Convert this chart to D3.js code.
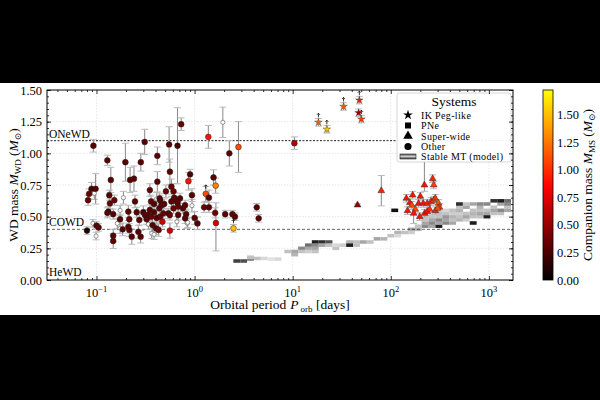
<!DOCTYPE html>
<html>
<head>
<meta charset="utf-8">
<script src="https://cdn.jsdelivr.net/npm/d3@7"></script>
<style>
body { margin: 0; background: #000; }
text { font-family: "Liberation Serif", "DejaVu Serif", serif; }
</style>
</head>
<body>
<div id="chart"></div>
<script>
'use strict'

// ---------- data ----------
// [period (days), WD mass, companion mass, err low, err high, limit arrow]
const otherSystems = [
    [0.093, 1.06, 0.3, 0.05, 0.05], [0.129, 0.945, 0.3, 0.04, 0.04], [0.140, 0.79, 0.3, 0.1, 0.1],
    [0.31, 1.09, 0.3, 0.1, 0.1], [0.73, 1.23, 0.35, 0.05, 0.05], [0.55, 1.07, 0.3, 0.14, 0.14],
    [0.67, 1.06, 0.25, 0.3, 0.3], [0.417, 0.98, 0.3, 0.07, 0.07], [0.197, 0.93, 0.3, 0.15, 0.15],
    [0.283, 0.93, 0.3, 0.07, 0.07], [0.22, 0.79, 0.3, 0.1, 0.1], [0.241, 0.80, 0.3, 0.1, 0.1],
    [0.098, 0.72, 0.3, 0.12, 0.12], [0.089, 0.72, 0.25, 0.05, 0.05], [0.135, 0.67, 0.3, 0.04, 0.04],
    [0.084, 0.68, 0.35, 0.04, 0.04], [0.082, 0.63, 0.35, 0.04, 0.04], [0.35, 0.71, 0.35, 0.05, 0.05],
    [0.417, 0.776, 0.3, 0.08, 0.08], [0.56, 0.855, 0.3, 0.1, 0.1], [0.58, 0.737, 0.35, 0.06, 0.06],
    [0.61, 0.70, 0.35, 0.06, 0.06], [0.90, 0.834, 0.25, 0.04, 0.04], [0.94, 0.67, 0.3, 0.05, 0.05],
    [0.865, 0.78, 0.9, 0.07, 0.07], [1.38, 1.13, 0.9, 0.09, 0.09], [2.26, 1.00, 0.3, 0.1, 0.1],
    [2.8, 1.05, 1.1, 0.2, 0.2], [10.4, 1.08, 0.6, 0.05, 0.05], [1.56, 0.81, 0.3, 0.06, 0.06],
    [1.64, 0.745, 1.3, 0.06, 0.06], [1.3, 0.68, 1.1, 0.06, 0.06, 1], [1.4, 0.65, 0.3, 0.06, 0.06],
    [1.25, 0.574, 0.35, 0.04, 0.04], [1.4, 0.574, 0.3, 0.04, 0.04], [1.62, 0.53, 0.35, 0.04, 0.04],
    [1.65, 0.45, 0.7, 0.22, 0.16], [2.05, 0.52, 0.3, 0.03, 0.03], [2.43, 0.52, 0.35, 0.03, 0.03],
    [2.58, 0.50, 0.3, 0.03, 0.03], [2.49, 0.408, 1.5, 0.03, 0.03, 1], [4.3, 0.574, 0.3, 0.03, 0.03],
    [4.5, 0.487, 0.3, 0.03, 0.03], [1.0, 0.49, 0.3, 0.05, 0.05], [1.07, 0.447, 0.3, 0.05, 0.05],
    [0.36, 0.62, 0.35, 0.05, 0.05], [0.386, 0.60, 0.3, 0.04, 0.04], [0.46, 0.59, 0.3, 0.04, 0.04],
    [0.247, 0.62, 0.3, 0.05, 0.05], [0.132, 0.54, 0.2, 0.04, 0.04], [0.148, 0.52, 0.3, 0.04, 0.04],
    [0.211, 0.54, 0.3, 0.05, 0.05], [0.216, 0.48, 0.35, 0.05, 0.05], [0.257, 0.535, 0.3, 0.04, 0.04],
    [0.30, 0.535, 0.25, 0.05, 0.05], [0.273, 0.474, 0.3, 0.04, 0.04], [0.312, 0.513, 0.3, 0.04, 0.04],
    [0.338, 0.513, 0.3, 0.04, 0.04], [0.36, 0.50, 0.35, 0.04, 0.04], [0.386, 0.535, 0.3, 0.04, 0.04],
    [0.41, 0.49, 0.3, 0.05, 0.05], [0.444, 0.50, 0.35, 0.04, 0.04], [0.48, 0.526, 0.35, 0.04, 0.04],
    [0.373, 0.434, 0.3, 0.05, 0.05], [0.405, 0.408, 0.3, 0.05, 0.05], [0.43, 0.395, 0.35, 0.05, 0.05],
    [0.211, 0.42, 0.3, 0.05, 0.05], [0.216, 0.395, 0.3, 0.05, 0.05], [0.229, 0.342, 0.3, 0.06, 0.06],
    [0.267, 0.38, 0.3, 0.05, 0.05], [0.282, 0.342, 0.3, 0.05, 0.05], [0.148, 0.35, 0.3, 0.05, 0.05],
    [0.148, 0.308, 0.3, 0.06, 0.06], [0.08, 0.39, 0.1, 0.03, 0.03], [0.1, 0.43, 0.3, 0.03, 0.03],
    [0.105, 0.415, 0.3, 0.03, 0.03], [0.137, 0.605, 0.35, 0.04, 0.04], [0.152, 0.63, 0.35, 0.04, 0.04],
    [0.129, 0.53, 0.3, 0.04, 0.04], [0.174, 0.48, 0.3, 0.04, 0.04], [0.185, 0.40, 0.3, 0.05, 0.05],
    [0.325, 0.48, 0.3, 0.04, 0.04], [0.35, 0.553, 0.3, 0.04, 0.04], [0.437, 0.566, 0.3, 0.04, 0.04],
    [0.51, 0.70, 0.35, 0.05, 0.05], [0.54, 0.526, 0.3, 0.04, 0.04], [0.58, 0.62, 0.3, 0.04, 0.04],
    [0.61, 0.566, 0.35, 0.04, 0.04], [0.66, 0.62, 0.3, 0.04, 0.04], [0.68, 0.58, 0.35, 0.04, 0.04],
    [0.71, 0.645, 0.3, 0.04, 0.04], [0.76, 0.566, 0.3, 0.04, 0.04], [0.80, 0.59, 0.3, 0.04, 0.04],
    [0.56, 0.39, 0.7, 0.06, 0.06], [0.47, 0.46, 0.7, 0.04, 0.04], [0.80, 0.487, 0.3, 0.04, 0.04],
    [0.62, 0.65, 0.3, 0.04, 0.04], [0.49, 0.60, 0.3, 0.04, 0.04], [0.67, 0.61, 0.3, 0.04, 0.04],
    [0.82, 0.52, 0.3, 0.04, 0.04], [0.68, 0.513, 0.3, 0.04, 0.04], [0.56, 0.513, 0.35, 0.04, 0.04],
    [0.445, 0.63, 0.3, 0.04, 0.04], [0.44, 0.645, 0.3, 0.04, 0.04]
]

// systems without a companion mass (open circles): [period, WD mass, err]
const openSystems = [
    [0.095, 0.685, 0.05], [0.188, 0.65, 0.05], [0.41, 0.64, 0.05], [1.94, 1.245, 0.12],
    [0.94, 0.587, 0.05], [0.174, 0.55, 0.04], [0.338, 0.44, 0.04], [0.366, 0.368, 0.04],
    [0.386, 0.36, 0.04], [0.174, 0.408, 0.04], [0.092, 0.447, 0.03], [0.099, 0.347, 0.03],
    [0.163, 0.447, 0.04], [0.66, 0.46, 0.04], [0.84, 0.447, 0.04], [0.85, 0.455, 0.04]
]

// IK Peg-like: [period, WD mass, companion mass]
const ikPegSystems = [
    [18.3, 1.245, 1.2], [22.3, 1.19, 1.5], [33, 1.37, 1.15],
    [47.8, 1.42, 0.95], [47, 1.32, 0.5], [50.1, 1.27, 1.05]
]

// Super-wide: [period, WD mass, companion mass, err low, err high]
const superWideSystems = [
    [80, 0.705, 0.95, 0.12, 0.12], [45.8, 0.592, 0.5, 0.01, 0.01],
    [220, 0.75, 0.9, 0.05, 0.6], [267, 0.80, 0.95, 0.03, 0.03], [274, 0.75, 1.05, 0.03, 0.03],
    [144, 0.645, 0.9, 0.03, 0.03], [167, 0.67, 0.9, 0.03, 0.03], [200, 0.66, 0.9, 0.03, 0.03],
    [156, 0.61, 0.9, 0.03, 0.03], [164, 0.59, 1.1, 0.03, 0.03], [192, 0.605, 0.9, 0.03, 0.03],
    [214, 0.605, 0.9, 0.03, 0.03], [235, 0.605, 0.95, 0.03, 0.03], [257, 0.62, 0.95, 0.03, 0.03],
    [274, 0.63, 1.1, 0.03, 0.03], [284, 0.645, 1.0, 0.03, 0.03], [307, 0.605, 1.1, 0.03, 0.03],
    [313, 0.574, 1.0, 0.03, 0.03], [148, 0.547, 0.9, 0.03, 0.03], [178, 0.558, 1.1, 0.03, 0.03],
    [171, 0.526, 0.9, 0.08, 0.03], [197, 0.50, 0.9, 0.03, 0.03], [221, 0.526, 0.9, 0.03, 0.03],
    [235, 0.54, 0.9, 0.03, 0.03], [249, 0.558, 1.0, 0.03, 0.03], [284, 0.547, 0.95, 0.03, 0.03],
    [301, 0.566, 1.1, 0.03, 0.03]
]

// Stable MT model grid: [log10 period, WD mass, density 0-1]
const modelCells = [
    [0.43, 0.15, 0.8], [0.50, 0.15, 0.75], [0.57, 0.165, 0.55], [0.57, 0.18, 0.35], [0.64, 0.17, 0.35],
    [0.71, 0.17, 0.25], [0.78, 0.165, 0.2], [0.85, 0.165, 0.25],
    [0.95, 0.225, 0.35], [1.02, 0.225, 0.45], [1.02, 0.2, 0.4], [1.09, 0.25, 0.55], [1.09, 0.225, 0.35],
    [1.16, 0.275, 0.65], [1.16, 0.25, 0.45], [1.16, 0.225, 0.3], [1.23, 0.3, 0.9], [1.23, 0.275, 0.55],
    [1.23, 0.25, 0.45], [1.23, 0.225, 0.35], [1.30, 0.3, 0.85], [1.30, 0.275, 0.45], [1.37, 0.3, 0.75],
    [1.37, 0.275, 0.35], [1.44, 0.25, 0.35], [1.44, 0.275, 0.25], [1.51, 0.275, 0.3], [1.58, 0.3, 0.4],
    [1.58, 0.275, 0.9], [1.65, 0.275, 0.35], [1.65, 0.3, 0.35], [1.72, 0.3, 0.45], [1.79, 0.3, 0.35],
    [1.86, 0.325, 0.45], [1.93, 0.325, 0.4], [2.0, 0.35, 0.35], [2.04, 0.55, 0.95],
    [2.07, 0.375, 0.4], [2.07, 0.35, 0.25], [2.14, 0.375, 0.35], [2.21, 0.4, 0.45], [2.21, 0.375, 0.3],
    [2.28, 0.4, 0.4], [2.28, 0.425, 0.35], [2.35, 0.425, 0.55], [2.35, 0.45, 0.45], [2.35, 0.475, 0.35],
    [2.35, 0.5, 0.35], [2.42, 0.425, 0.45], [2.42, 0.45, 0.55], [2.42, 0.475, 0.45], [2.42, 0.5, 0.35],
    [2.42, 0.525, 0.25], [2.49, 0.425, 0.9], [2.49, 0.45, 0.45], [2.49, 0.475, 0.55], [2.49, 0.5, 0.35],
    [2.49, 0.525, 0.35], [2.56, 0.45, 0.55], [2.56, 0.475, 0.45], [2.56, 0.5, 0.5], [2.56, 0.525, 0.35],
    [2.56, 0.55, 0.25], [2.63, 0.45, 0.45], [2.63, 0.475, 0.35], [2.63, 0.5, 0.4], [2.63, 0.525, 0.3],
    [2.63, 0.55, 0.35], [2.70, 0.475, 0.4], [2.70, 0.5, 0.35], [2.70, 0.525, 0.3], [2.70, 0.55, 0.4],
    [2.70, 0.575, 0.35], [2.70, 0.6, 0.85], [2.77, 0.475, 0.3], [2.77, 0.5, 0.45], [2.77, 0.525, 0.35],
    [2.77, 0.575, 0.45], [2.77, 0.6, 0.35], [2.84, 0.45, 0.9], [2.84, 0.5, 0.35], [2.84, 0.525, 0.4],
    [2.84, 0.55, 0.35], [2.84, 0.6, 0.45], [2.91, 0.5, 0.35], [2.91, 0.525, 0.45], [2.91, 0.55, 0.35],
    [2.91, 0.575, 0.4], [2.91, 0.6, 0.55], [2.98, 0.5, 0.9], [2.98, 0.525, 0.45], [2.98, 0.55, 0.35],
    [2.98, 0.6, 0.55], [3.05, 0.525, 0.35], [3.05, 0.55, 0.45], [3.05, 0.575, 0.35], [3.05, 0.625, 0.85],
    [3.12, 0.525, 0.35], [3.12, 0.55, 0.55], [3.12, 0.6, 0.45], [3.12, 0.625, 0.9], [3.19, 0.55, 0.45],
    [3.19, 0.575, 0.35], [3.19, 0.6, 0.55], [3.19, 0.625, 0.65]
]

const yTicks = [0, 0.25, 0.5, 0.75, 1.0, 1.25, 1.5]
const colorTicks = [0, 0.25, 0.5, 0.75, 1.0, 1.25, 1.5]
const xTickLabels = [[0.1, "\u22121"], [1, "0"], [10, "1"], [100, "2"], [1000, "3"]]
const classLines = [["ONeWD", 1.1], ["COWD", 0.4], ["HeWD", 0]]

////////////////////////////////////
//////////// svg setup /////////////
////////////////////////////////////
const W = 600, H = 400
const plot = { left: 47, right: 513, top: 90, bottom: 280 }
const cbar = { left: 543, right: 553 }

const svg = d3.select('#chart').append('svg')
    .attr('width', W).attr('height', H)

svg.append('rect').attr('width', W).attr('height', H).attr('fill', '#000')
svg.append('rect').attr('x', 0).attr('y', 83).attr('width', W).attr('height', 232).attr('fill', '#fff')

const x = d3.scaleLog().domain([0.0313, 1760]).range([plot.left, plot.right])
const y = d3.scaleLinear().domain([0, 1.5]).range([plot.bottom, plot.top])
const cMax = 1.727
const yc = d3.scaleLinear().domain([0, cMax]).range([plot.bottom, plot.top])

// matplotlib "hot", truncated so the top is yellow
function hot(m) {
    const t = Math.max(0, Math.min(1, m / cMax)) * 0.746
    const cl = v => Math.max(0, Math.min(1, v))
    const r = cl(t / 0.365), g = cl((t - 0.365) / 0.381), b = cl((t - 0.746) / 0.254)
    return d3.rgb(r * 255, g * 255, b * 255).toString()
}

svg.append('clipPath').attr('id', 'clip').append('rect')
    .attr('x', plot.left).attr('y', plot.top)
    .attr('width', plot.right - plot.left).attr('height', plot.bottom - plot.top)

const body = svg.append('g').attr('clip-path', 'url(#clip)')

// grid
body.append('g').selectAll('line').data([0.1, 1, 10, 100, 1000]).join('line')
    .attr('x1', d => x(d)).attr('x2', d => x(d))
    .attr('y1', plot.top).attr('y2', plot.bottom)
    .attr('stroke', '#ddd').attr('stroke-width', 0.7).attr('stroke-dasharray', '1.5,1.5')
body.append('g').selectAll('line').data(yTicks).join('line')
    .attr('x1', plot.left).attr('x2', plot.right)
    .attr('y1', d => y(d)).attr('y2', d => y(d))
    .attr('stroke', '#ddd').attr('stroke-width', 0.7).attr('stroke-dasharray', '1.5,1.5')

// model cells
const dLog = 0.07, dM = 0.028
body.append('g').selectAll('rect').data(modelCells).join('rect')
    .attr('x', d => x(Math.pow(10, d[0] - dLog / 2)))
    .attr('width', d => x(Math.pow(10, d[0] + dLog / 2)) - x(Math.pow(10, d[0] - dLog / 2)))
    .attr('y', d => y(d[1] + dM / 2))
    .attr('height', d => y(d[1] - dM / 2) - y(d[1] + dM / 2))
    .attr('fill', d => d3.interpolateGreys(d[2]))

// class lines
body.append('g').selectAll('line').data(classLines.filter(d => d[1] > 0)).join('line')
    .attr('x1', plot.left).attr('x2', plot.right)
    .attr('y1', d => y(d[1])).attr('y2', d => y(d[1]))
    .attr('stroke', '#222').attr('stroke-width', d => d[1] > 1 ? 1 : 0.7)
    .attr('stroke-dasharray', d => d[1] > 1 ? '2,1.5' : '3,2')

svg.append('g').selectAll('text').data(classLines).join('text')
    .attr('x', plot.left + 2)
    .attr('y', d => d[1] > 0 ? y(d[1]) - 3 : y(d[1]) - 4)
    .attr('font-size', 11.5)
    .text(d => d[0])

// error bars
function errorBars(g, data, px, py, lo, hi) {
    const eg = g.append('g')
    eg.selectAll('line.bar').data(data).join('line').attr('class', 'bar')
        .attr('x1', px).attr('x2', px)
        .attr('y1', d => y(py(d) - lo(d))).attr('y2', d => y(py(d) + hi(d)))
        .attr('stroke', '#888').attr('stroke-width', 1)
    ;[d => py(d) - lo(d), d => py(d) + hi(d)].forEach(f => {
        eg.selectAll(null).data(data).join('line')
            .attr('x1', d => px(d) - 3.5).attr('x2', d => px(d) + 3.5)
            .attr('y1', d => y(f(d))).attr('y2', d => y(f(d)))
            .attr('stroke', '#bbb').attr('stroke-width', 1)
    })
}

errorBars(body, openSystems, d => x(d[0]), d => d[1], d => d[2], d => d[2])
errorBars(body, otherSystems, d => x(d[0]), d => d[1], d => d[3], d => d[4])
errorBars(body, ikPegSystems, d => x(d[0]), d => d[1], () => 0.03, () => 0.03)
errorBars(body, superWideSystems, d => x(d[0]), d => d[1], d => d[3], d => d[4])

// limit arrows
const limited = otherSystems.filter(d => d[5]).concat(ikPegSystems.filter(d => d[2] !== 0.5))
body.append('g').selectAll('path').data(limited).join('path')
    .attr('d', d => {
        const px = x(d[0]), py = y(d[1]) - 5
        return `M${px},${py}V${py - 4}M${px - 1.5},${py - 2.5}L${px},${py - 4}L${px + 1.5},${py - 2.5}`
    })
    .attr('stroke', '#000').attr('stroke-width', 0.8).attr('fill', 'none')

// markers
body.append('g').selectAll('circle').data(openSystems).join('circle')
    .attr('cx', d => x(d[0])).attr('cy', d => y(d[1])).attr('r', 2.1)
    .attr('fill', '#fff').attr('stroke', '#777').attr('stroke-width', 0.8)

body.append('g').selectAll('circle').data(otherSystems).join('circle')
    .attr('cx', d => x(d[0])).attr('cy', d => y(d[1])).attr('r', 2.9)
    .attr('fill', d => hot(d[2])).attr('stroke', '#222').attr('stroke-width', 0.5)

body.append('g').selectAll('path').data(superWideSystems).join('path')
    .attr('transform', d => `translate(${x(d[0])},${y(d[1])})`)
    .attr('d', d3.symbol(d3.symbolTriangle, 20))
    .attr('fill', d => hot(d[2])).attr('stroke', '#333').attr('stroke-width', 0.5)

body.append('g').selectAll('path').data(ikPegSystems).join('path')
    .attr('transform', d => `translate(${x(d[0])},${y(d[1])})`)
    .attr('d', d3.symbol(d3.symbolStar, 18))
    .attr('fill', d => hot(d[2])).attr('stroke', '#333').attr('stroke-width', 0.4)

////////////////////////////////////
//////////// Legend ////////////////
////////////////////////////////////
const lg = svg.append('g')
lg.append('rect').attr('x', 397).attr('y', 93).attr('width', 114).attr('height', 69)
    .attr('rx', 2.5).attr('fill', '#fff').attr('fill-opacity', 0.92)
    .attr('stroke', '#ccc').attr('stroke-width', 0.8)
lg.append('text').attr('x', 454).attr('y', 106).attr('text-anchor', 'middle')
    .attr('font-size', 13.5).text('Systems')

const legendItems = [
    ['IK Peg-like', d3.symbolStar, 30],
    ['PNe', d3.symbolSquare, 36],
    ['Super-wide', d3.symbolTriangle, 40],
    ['Other', d3.symbolCircle, 40]
]
legendItems.forEach((it, i) => {
    const ly = 115 + i * 10.5
    lg.append('path').attr('transform', `translate(408,${ly})`)
        .attr('d', d3.symbol(it[1], it[2])).attr('fill', '#000')
    lg.append('text').attr('x', 421).attr('y', ly + 3.5).attr('font-size', 10)
        .attr('letter-spacing', 0.35).text(it[0])
})
const grad = svg.append('defs').append('linearGradient').attr('id', 'mtgrad')
    .attr('x1', 0).attr('x2', 0).attr('y1', 0).attr('y2', 1)
;[[0, '#555'], [0.3, '#999'], [0.5, '#ccc'], [0.7, '#888'], [1, '#444']].forEach(s =>
    grad.append('stop').attr('offset', s[0]).attr('stop-color', s[1]))
lg.append('rect').attr('x', 400).attr('y', 154).attr('width', 16).attr('height', 5)
    .attr('fill', 'url(#mtgrad)').attr('stroke', '#222').attr('stroke-width', 0.6)
lg.append('text').attr('x', 421).attr('y', 160).attr('font-size', 10)
    .attr('letter-spacing', 0.35).text('Stable MT (model)')

////////////////////////////////////
//////////// Axes //////////////////
////////////////////////////////////
const minorX = []
for (let e = -2; e <= 3; e++) for (let k = 2; k <= 9; k++) {
    const v = k * Math.pow(10, e)
    if (v > 0.0313 && v < 1760) minorX.push(v)
}
const minorY = d3.range(0, 1.501, 0.05)

const axes = svg.append('g').attr('font-size', 12)
function addAxis(axis, tx, ty) {
    const g = axes.append('g').attr('transform', `translate(${tx},${ty})`).call(axis)
    g.select('.domain').remove()
    g.selectAll('line').attr('stroke', '#000').attr('stroke-width', 0.8)
    return g
}
addAxis(d3.axisBottom(x).tickValues([0.1, 1, 10, 100, 1000]).tickSize(-4).tickFormat(''), 0, plot.bottom)
addAxis(d3.axisBottom(x).tickValues(minorX).tickSize(-2).tickFormat(''), 0, plot.bottom)
addAxis(d3.axisTop(x).tickValues([0.1, 1, 10, 100, 1000]).tickSize(-4).tickFormat(''), 0, plot.top)
addAxis(d3.axisTop(x).tickValues(minorX).tickSize(-2).tickFormat(''), 0, plot.top)
const yl = addAxis(d3.axisLeft(y).tickValues(yTicks).tickSize(-4).tickPadding(5).tickFormat(d3.format('.2f')), plot.left, 0)
yl.selectAll('text').attr('font-family', '"Liberation Serif", serif').attr('font-size', 12.5)
addAxis(d3.axisLeft(y).tickValues(minorY).tickSize(-2).tickFormat(''), plot.left, 0)
addAxis(d3.axisRight(y).tickValues(yTicks).tickSize(-4).tickFormat(''), plot.right, 0)
addAxis(d3.axisRight(y).tickValues(minorY).tickSize(-2).tickFormat(''), plot.right, 0)

svg.append('rect').attr('x', plot.left).attr('y', plot.top)
    .attr('width', plot.right - plot.left).attr('height', plot.bottom - plot.top)
    .attr('fill', 'none').attr('stroke', '#000').attr('stroke-width', 1)

// x tick labels 10^n
const xl = svg.append('g').selectAll('text').data(xTickLabels).join('text')
    .attr('x', d => x(d[0])).attr('y', plot.bottom + 17)
    .attr('text-anchor', 'middle').attr('font-size', 12.5)
xl.append('tspan').text('10')
xl.append('tspan').attr('font-size', 8.5).attr('dy', -5).text(d => d[1])

// axis titles
const xt = svg.append('text').attr('x', 280).attr('y', 309).attr('text-anchor', 'middle').attr('font-size', 13.5)
xt.append('tspan').text('Orbital period')
xt.append('tspan').attr('font-style', 'italic').attr('dx', 4).text('P')
xt.append('tspan').attr('font-size', 9).attr('dx', 2).attr('dy', 2.5).text('orb')
xt.append('tspan').attr('dy', -2.5).text(' [days]')

const yt = svg.append('text').attr('transform', `translate(18,${(plot.top + plot.bottom) / 2}) rotate(-90)`)
    .attr('text-anchor', 'middle').attr('font-size', 13.5)
yt.append('tspan').text('WD mass ')
yt.append('tspan').attr('font-style', 'italic').text('M')
yt.append('tspan').attr('font-size', 9).attr('dy', 2.5).text('WD')
yt.append('tspan').attr('dy', -2.5).text(' (')
yt.append('tspan').attr('font-style', 'italic').text('M')
yt.append('tspan').attr('font-size', 9).attr('dy', 2.5).text('\u2299')
yt.append('tspan').attr('dy', -2.5).text(')')

////////////////////////////////////
//////////// Colorbar //////////////
////////////////////////////////////
const cg = svg.append('defs').append('linearGradient').attr('id', 'cgrad')
    .attr('x1', 0).attr('x2', 0).attr('y1', 1).attr('y2', 0)
d3.range(0, 1.0001, 0.05).forEach(f =>
    cg.append('stop').attr('offset', f).attr('stop-color', hot(f * cMax)))
svg.append('rect').attr('x', cbar.left).attr('y', plot.top)
    .attr('width', cbar.right - cbar.left).attr('height', plot.bottom - plot.top)
    .attr('fill', 'url(#cgrad)').attr('stroke', '#000').attr('stroke-width', 0.8)
svg.append('g').selectAll('text').data(colorTicks).join('text')
    .attr('x', cbar.right + 4).attr('y', d => yc(d) + 4.5)
    .attr('font-size', 12.5).text(d => d3.format('.2f')(d))

const ct = svg.append('text').attr('transform', `translate(592,${(plot.top + plot.bottom) / 2}) rotate(-90)`)
    .attr('text-anchor', 'middle').attr('font-size', 13.5)
ct.append('tspan').text('Companion mass ')
ct.append('tspan').attr('font-style', 'italic').text('M')
ct.append('tspan').attr('font-size', 9).attr('dy', 2.5).text('MS')
ct.append('tspan').attr('dy', -2.5).text(' (')
ct.append('tspan').attr('font-style', 'italic').text('M')
ct.append('tspan').attr('font-size', 9).attr('dy', 2.5).text('\u2299')
ct.append('tspan').attr('dy', -2.5).text(')')
</script>
</body>
</html>
